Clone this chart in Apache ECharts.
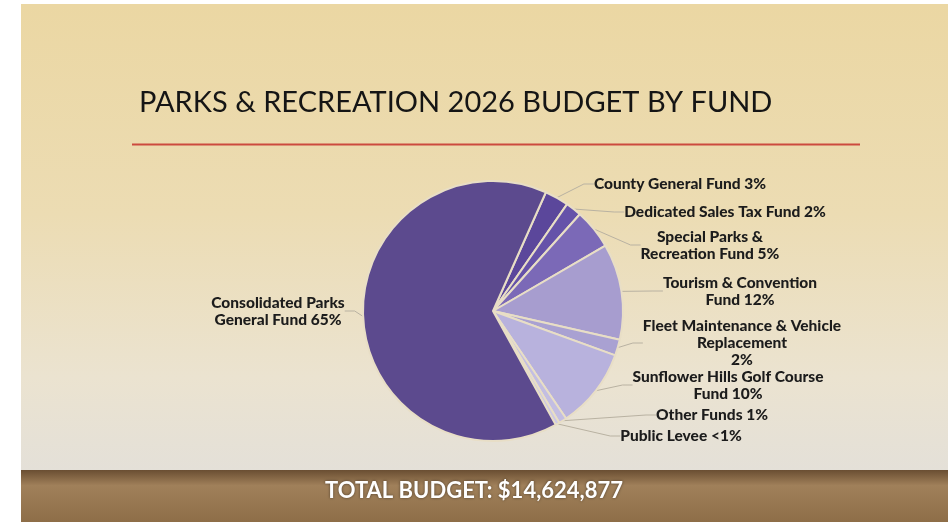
<!DOCTYPE html>
<html>
<head>
<meta charset="utf-8">
<script src="https://cdn.jsdelivr.net/npm/echarts@6/dist/echarts.min.js"></script>
<style>
html,body{margin:0;padding:0;background:#fff;}
#c{width:948px;height:522px;}
</style>
</head>
<body>
<div id="c"></div>
<script>
// ---- data ----
var funds = [
  'County General Fund',
  'Dedicated Sales Tax Fund',
  'Special Parks &\nRecreation Fund',
  'Tourism & Convention\nFund',
  'Fleet Maintenance & Vehicle\nReplacement\n',
  'Sunflower Hills Golf Course\nFund',
  'Other Funds',
  'Public Levee',
  'Consolidated Parks\nGeneral Fund'
];
var shares = [3, 2, 5, 12, 2, 10, 1, 0.5, 65];
var shareLabels = ['3%', '2%', '5%', '12%', '2%', '10%', '1%', '<1%', '65%'];
var title = 'PARKS & RECREATION 2026 BUDGET BY FUND';
var totalText = 'TOTAL BUDGET: $14,624,877';

// ---- styles ----
var colors = ['#5b479b', '#6552a9', '#7b69b7', '#a79dcf', '#a9a1d2', '#b8b2dd', '#c3bee2', '#ccc8e6', '#5c4a8e'];
var labelAnchor = [
  [680, 184], [725, 212], [710, 245], [740, 291], [742, 343],
  [728, 385], [712, 415], [681, 436], [278, 311]
];

var chart = echarts.init(document.getElementById('c'), null, {renderer: 'canvas'});

var pieData = funds.map(function (n, i) {
  return {
    name: n,
    value: shares[i],
    itemStyle: {color: colors[i]}
  };
});

var option = {
  animation: false,
  graphic: [
    {type: 'rect', z: -10, shape: {x: 21, y: 4, width: 927, height: 466},
      style: {fill: new echarts.graphic.LinearGradient(0, 0, 0, 1, [
        {offset: 0, color: '#ebd7a3'},
        {offset: 0.45, color: '#ecdcb3'},
        {offset: 0.8, color: '#ebe3d0'},
        {offset: 1, color: '#e4e0d8'}
      ])}},
    {type: 'rect', z: -10, shape: {x: 21, y: 470, width: 927, height: 52},
      style: {fill: new echarts.graphic.LinearGradient(0, 0, 0, 1, [
        {offset: 0, color: '#6a4e32'},
        {offset: 0.3, color: '#a0805a'},
        {offset: 1, color: '#8e6e48'}
      ])}},
    {type: 'line', z: 5, shape: {x1: 132, y1: 144.5, x2: 860, y2: 144.5},
      style: {stroke: '#cc4a3e', lineWidth: 2}},
    {type: 'text', z: 5, left: 139, top: 88,
      style: {text: title, fill: '#151515', font: '400 29px Lato'}},
    {type: 'text', z: 5, left: 'center', top: 480,
      style: {text: totalText, fill: '#ffffff', font: '700 22px Lato',
        textShadowColor: 'rgba(0,0,0,0.5)', textShadowBlur: 3}}
  ],
  series: [{
    type: 'pie',
    center: [493, 311],
    radius: [0, 130],
    startAngle: 66,
    clockwise: true,
    avoidLabelOverlap: false,
    data: pieData,
    itemStyle: {borderColor: '#e8dec6', borderWidth: 2},
    label: {
      show: true,
      formatter: function (p) {
        var i = p.dataIndex;
        var sep = funds[i].slice(-1) === '\n' ? '' : ' ';
        return funds[i] + sep + shareLabels[i];
      },
      color: '#1c1c1c',
      fontFamily: 'Lato',
      fontWeight: 900,
      fontSize: 15.5,
      lineHeight: 17,
      align: 'center'
    },
    labelLine: {show: true, lineStyle: {color: '#b9b2a2', width: 1}, length: 10, length2: 10},
    labelLayout: function (params) {
      var a = labelAnchor[params.dataIndex];
      return {x: a[0], y: a[1], align: 'center', verticalAlign: 'middle'};
    },
    emphasis: {disabled: true}
  }]
};
chart.setOption(option);
</script>
</body>
</html>
